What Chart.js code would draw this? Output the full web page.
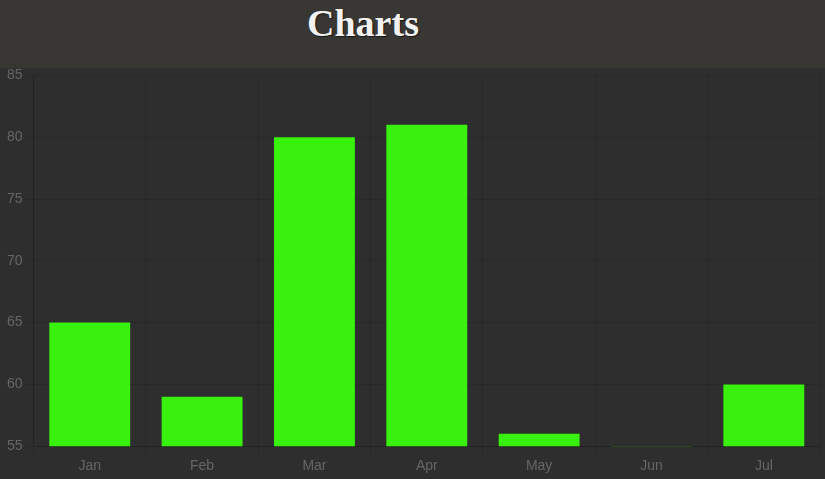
<!DOCTYPE html>
<html>
<head>
<meta charset="utf-8">
<title>Charts</title>
<script src="https://cdn.jsdelivr.net/npm/chart.js@4/dist/chart.umd.min.js"></script>
<style>
    body {
        margin: 0;
        background: #2e2e2e;
        overflow: hidden;
    }
    .header-bg {
        position: relative;
        z-index: 1;
        background: #393734;
        width: 825px;
    }
    .header {
        height: 68px;
        width: 726px;
        text-align: center;
        box-sizing: border-box;
    }
    .header h1 {
        margin: 0;
        padding-top: 2px;
        font-family: "Liberation Serif", "Times New Roman", serif;
        font-weight: bold;
        font-size: 38px;
        line-height: 42px;
        color: #f2f2f2;
        text-shadow: 1px 1px 1px rgba(0,0,0,0.6);
    }
    .chart-box {
        position: relative;
        margin-top: -4px;
        width: 825px;
        height: 415px;
        background: #2e2e2e;
    }
</style>
</head>
<body>
<div class="header-bg"><div class="header"><h1>Charts</h1></div></div>
<div class="chart-box">
    <canvas id="BarMonthly"></canvas>
</div>
<script>
const months = ['Jan', 'Feb', 'Mar', 'Apr', 'May', 'Jun', 'Jul'];
const values = [65, 59, 80, 81, 56, 55, 60];
const yTicks = [55, 60, 65, 70, 75, 80, 85];

let BarMonthly = new Chart(
    document.getElementById('BarMonthly'), {
        type: 'bar',
        data: {
            labels: months,
            datasets: [
                {
                    label: 'Monthly',
                    data: values,
                    backgroundColor: '#38f20e',
                    borderWidth: 0,
                },
            ]
        },
        options: {
            responsive: true,
            maintainAspectRatio: false,
            animation: false,
            layout: {
                padding: {left: 4, right: 5, top: 0, bottom: 0}
            },
            scales: {
                x: {
                    grid: {
                        color: 'rgba(0,0,0,0.13)',
                        offset: true,
                    },
                    border: {
                        color: 'rgba(0,0,0,0.13)'
                    },
                    ticks: {
                        padding: 4,
                        color: '#666',
                        font: {family: 'Liberation Sans, Arial, sans-serif', size: 14},
                    }
                },
                y: {
                    min: yTicks[0],
                    max: yTicks[yTicks.length - 1],
                    grid: {
                        color: 'rgba(0,0,0,0.13)',
                    },
                    border: {
                        color: 'rgba(0,0,0,0.13)'
                    },
                    ticks: {
                        stepSize: 5,
                        color: '#666',
                        font: {family: 'Liberation Sans, Arial, sans-serif', size: 14},
                    }
                }
            },
            plugins: {
                legend: {
                    display: false
                },
                tooltip: {
                    enabled: false
                }
            },
        },
    }
);
</script>
</body>
</html>
